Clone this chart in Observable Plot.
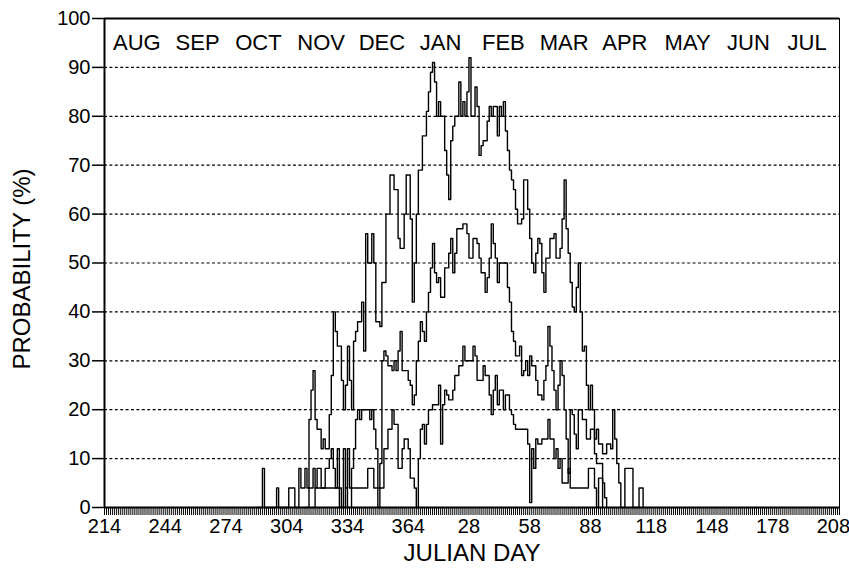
<!DOCTYPE html>
<html><head><meta charset="utf-8">
<script src="https://cdn.jsdelivr.net/npm/d3@7"></script>
<script src="https://cdn.jsdelivr.net/npm/@observablehq/plot@0.6"></script>
<style>
html,body{margin:0;padding:0;background:#fff;}
#chart svg{display:block;}
</style>
</head><body><div id="chart"></div>
<script>
// Month labels and the (mid-month) Julian day they sit at
const monthLabels = ["AUG","SEP","OCT","NOV","DEC","JAN","FEB","MAR","APR","MAY","JUN","JUL"];
const monthDays = [230, 260, 290, 321, 351, 14, 45, 75, 105, 136, 166, 195];
// Julian-day tick labels
const tickDays = [214, 244, 274, 304, 334, 364, 28, 58, 88, 118, 148, 178, 208];
const yTicks = [0, 10, 20, 30, 40, 50, 60, 70, 80, 90, 100];
const gridValues = [10, 20, 30, 40, 50, 60, 70, 80, 90];

// Series: [julian day, probability %]
const seriesA = [
  [289,0],[292,8],[293,0],[299,4],[300,0],[305,4],[308,0],[310,8],[311,4],[313,8],[314,4],
  [315,18],[316,24],[317,28],[318,18],[319,16],[321,12],[322,14],[323,12],[325,19],[326,27],
  [327,40],[328,36],[329,33],[331,26],[332,20],[333,25],[334,33],[335,26],[336,20],[337,34],
  [338,36],[339,38],[341,42],[342,32],[343,56],[344,50],[346,56],[347,50],[348,38],[350,37],
  [351,46],[353,60],[355,68],[357,65],[359,55],[360,53],[362,60],[363,68],[365,59],[366,42],
  [1,50],[2,60],[3,69],[5,76],[7,81],[8,85],[9,89],[10,91],[11,87],[12,80],[13,83],[14,80],
  [16,73],[17,68],[18,63],[19,75],[20,78],[21,80],[23,87],[24,80],[25,83],[26,80],[27,85],
  [28,92],[29,80],[31,86],[32,82],[33,72],[34,74],[35,75],[37,79],[38,82],[39,80],[40,82],
  [42,76],[43,82],[44,80],[45,83],[46,77],[47,73],[48,69],[49,67],[50,65],[51,61],[52,58],
  [54,59],[55,67],[56,67],[57,61],[58,55],[59,50],[60,48],[61,52],[62,55],[63,54],[64,48],
  [65,44],[66,51],[68,55],[70,56],[71,51],[73,53],[74,59],[75,67],[76,57],[77,52],[78,46],
  [79,41],[80,40],[81,45],[82,50],[83,40],[84,32],[85,33],[86,25],[87,20],[88,25],[89,20],
  [90,14],[91,16],[92,13],[94,11],[96,13],[98,12],[99,20],[100,14],[101,9],[102,5],[103,0],
  [105,8],[109,0],[112,4],[114,0]
];
const seriesB = [
  [313,0],[315,4],[317,8],[318,4],[319,8],[321,4],[323,8],[325,10],[326,12],[327,8],[328,4],
  [329,12],[330,4],[331,0],[332,12],[333,4],[334,12],[335,4],[336,8],[337,12],[338,18],
  [339,20],[340,18],[341,20],[345,18],[346,20],[347,16],[348,12],[349,4],[350,9],[351,30],
  [352,32],[353,31],[354,29],[356,28],[357,30],[358,28],[359,32],[360,36],[361,28],[363,28],
  [364,26],[365,25],[366,21],
  [1,23],[2,30],[3,34],[4,38],[5,36],[6,34],[7,40],[8,44],[9,49],[10,54],[11,48],[12,46],
  [13,47],[14,43],[16,49],[18,52],[19,55],[20,48],[21,52],[22,57],[24,57],[25,58],[27,56],
  [28,51],[30,55],[32,54],[33,51],[34,48],[36,44],[37,47],[38,51],[39,58],[40,54],[41,51],
  [42,46],[43,50],[47,45],[48,42],[49,36],[50,34],[51,31],[52,31],[53,33],[54,27],[55,28],
  [56,30],[57,27],[58,31],[59,29],[61,26],[62,23],[64,22],[65,26],[66,29],[67,37],[68,33],
  [69,28],[70,24],[71,20],[72,25],[73,30],[74,27],[75,20],[76,14],[77,7],[78,20],[79,19],
  [80,15],[81,12],[82,20],[84,18],[86,14],[88,16],[90,11],[91,9],[94,5],[95,2],[96,0]
];
const seriesC = [
  [317,0],[318,4],[329,4],[330,0],[333,4],[334,0],[336,4],[344,8],[347,4],[349,0],[350,4],
  [352,12],[354,16],[356,20],[357,17],[359,8],[361,12],[362,14],[364,12],[365,6],
  [1,4],[2,0],[3,10],[4,16],[5,17],[6,13],[7,17],[8,20],[10,21],[13,25],[14,13],[15,21],
  [16,24],[17,23],[18,22],[20,24],[21,27],[23,29],[25,33],[26,30],[30,33],[31,31],[32,26],
  [35,29],[36,27],[38,23],[39,19],[40,24],[41,27],[42,21],[43,24],[45,20],[46,23],[48,20],
  [49,19],[50,17],[51,16],[56,16],[57,13],[58,1],[59,12],[60,8],[61,14],[62,13],[64,14],
  [67,18],[68,14],[70,10],[71,12],[72,8],[73,10],[74,5],[77,8],[78,4],[86,4],[87,8],[89,8],
  [90,4],[91,0],[92,6],[94,0]
];

// Position along the season: Aug 1 (day 214) = 0, through Dec 31 (366), then Jan 1 onward
const toIndex = jd => jd >= 214 ? jd - 214 : jd + 152;
const rows = [
  ...seriesA.map(([day, p]) => ({idx: toIndex(day), p, s: "A"})),
  ...seriesB.map(([day, p]) => ({idx: toIndex(day), p, s: "B"})),
  ...seriesC.map(([day, p]) => ({idx: toIndex(day), p, s: "C"}))
];
const tickIdx = tickDays.map(toIndex);
const combIdx = d3.range(0, 364);
const font = "'Liberation Sans', Arial, Helvetica, sans-serif";

const chart = Plot.plot({
  width: 849, height: 570,
  marginLeft: 104, marginRight: 10, marginTop: 18, marginBottom: 63,
  x: {domain: [0, 363], axis: null},
  y: {domain: [0, 100], axis: null},
  style: {fontFamily: font, color: "#000", background: "#fff", overflow: "visible"},
  marks: [
    Plot.ruleY(gridValues, {stroke: "#000", strokeWidth: 1.2, strokeDasharray: "3,2.4"}),
    Plot.axisY({ticks: yTicks, tickSize: 12, tickPadding: 2, fontSize: 20, label: null, strokeWidth: 1.5}),
    Plot.axisX({ticks: combIdx, tickSize: 8, tickPadding: 0, tickFormat: () => "", label: null, strokeWidth: 1}),
    Plot.axisX({ticks: tickIdx, tickSize: 0, tickPadding: 11, fontSize: 20, label: null,
      tickFormat: i => String(tickDays[tickIdx.indexOf(i)])}),
    Plot.line(rows, {x: "idx", y: "p", z: "s", curve: "step-after", stroke: "#000", strokeWidth: 1.4}),
    Plot.ruleY([0], {stroke: "#000", strokeWidth: 1.8}),
    Plot.ruleY([100], {stroke: "#000", strokeWidth: 2}),
    Plot.ruleX([0], {stroke: "#000", strokeWidth: 2}),
    Plot.ruleX([363], {stroke: "#000", strokeWidth: 1}),
    Plot.text(monthLabels, {x: (d, i) => toIndex(monthDays[i]), y: () => 100, text: d => d,
      dy: 16, lineAnchor: "top", fontSize: 22}),
    Plot.text(["JULIAN DAY"], {frameAnchor: "bottom", dy: 46, fontSize: 24, lineAnchor: "middle"}),
    Plot.text(["PROBABILITY (%)"], {frameAnchor: "left", dx: -82, dy: 6, rotate: -90, fontSize: 24,
      textAnchor: "middle", lineAnchor: "middle"})
  ]
});
document.getElementById("chart").appendChild(chart);
</script>
</body></html>
